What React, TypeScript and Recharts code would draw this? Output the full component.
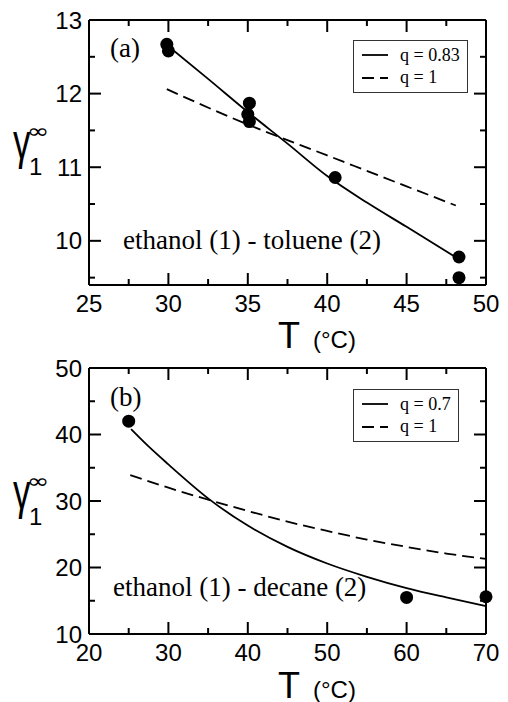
import React from "react";
import {
  ComposedChart,
  Line,
  Scatter,
  XAxis,
  YAxis,
  Legend,
  Customized,
} from "recharts";

// (a) ethanol (1) - toluene (2)
const expT_a = [29.9, 30.0, 35.0, 35.1, 35.1, 40.5, 48.3, 48.3];
const expG_a = [12.67, 12.58, 11.72, 11.87, 11.62, 10.86, 9.78, 9.5];
const fitT_a = [29.9, 32.5, 35, 37.5, 40, 42.5, 45, 48.3];
const fitG_a = [12.66, 12.2, 11.75, 11.32, 10.88, 10.52, 10.19, 9.75];
const q1T_a = [29.9, 35, 40, 45, 48.1];
const q1G_a = [12.06, 11.58, 11.16, 10.74, 10.48];
const xTicks_a = [25, 27.5, 30, 32.5, 35, 37.5, 40, 42.5, 45, 47.5, 50];
const yTicks_a = [9.5, 10, 10.5, 11, 11.5, 12, 12.5, 13];

// (b) ethanol (1) - decane (2)
const expT_b = [25, 60, 70];
const expG_b = [42.0, 15.5, 15.6];
const fitT_b = [25.3, 27.5, 30, 35, 40, 45, 50, 55, 60, 65, 70];
const fitG_b = [40.8, 38.2, 35.5, 30.4, 26.3, 23.1, 20.6, 18.6, 16.9, 15.5, 14.2];
const q1T_b = [25.2, 30, 35, 40, 45, 50, 55, 60, 65, 70];
const q1G_b = [33.9, 32.0, 30.2, 28.5, 26.9, 25.5, 24.2, 23.1, 22.1, 21.3];
const xTicks_b = [20, 25, 30, 35, 40, 45, 50, 55, 60, 65, 70];
const yTicks_b = [10, 15, 20, 25, 30, 35, 40, 45, 50];

const serif = "'Liberation Serif', 'Times New Roman', serif";
const sans = "'Liberation Sans', Arial, sans-serif";
const DASH = "12 6";
const LEFT = 89;
const RIGHT = 486;

const zip = (xs: number[], ys: number[]) => xs.map((x, i) => ({ x, y: ys[i] }));

// inward ticks on all four sides, labels only on bottom/left majors
function makeTick(side: string, step: number, top: number, bottom: number) {
  return (props: any) => {
    const { payload } = props;
    const v = payload.value as number;
    const c = payload.coordinate ?? (side === "left" || side === "right" ? props.y : props.x);
    const major = Math.abs(v / step - Math.round(v / step)) < 1e-6;
    const len = major ? 12 : 6;
    let x1 = c, y1 = c, x2 = c, y2 = c;
    if (side === "bottom") { y1 = bottom; y2 = bottom - len; }
    if (side === "top") { y1 = top; y2 = top + len; }
    if (side === "left") { x1 = LEFT; x2 = LEFT + len; }
    if (side === "right") { x1 = RIGHT; x2 = RIGHT - len; }
    return (
      <g>
        <line x1={x1} y1={y1} x2={x2} y2={y2} stroke="#000" strokeWidth={2} />
        {major && side === "bottom" && (
          <text x={c} y={bottom + 27} textAnchor="middle" fontFamily={sans} fontSize={24} fill="#000">
            {v}
          </text>
        )}
        {major && side === "left" && (
          <text x={LEFT - 7} y={c} dy="0.36em" textAnchor="end" fontFamily={sans} fontSize={24} fill="#000">
            {v}
          </text>
        )}
      </g>
    );
  };
}

function LegendBox({ labels, width }: { labels: string[]; width: number }) {
  return (
    <div
      style={{
        width,
        height: 53,
        border: "1px solid #333",
        boxSizing: "border-box",
        background: "#fff",
      }}
    >
      <svg width={width - 2} height={51}>
        {labels.map((lab, i) => (
          <g key={lab}>
            <line
              x1={8}
              x2={34}
              y1={14 + i * 23}
              y2={14 + i * 23}
              stroke="#000"
              strokeWidth={1.8}
              strokeDasharray={i === 1 ? DASH : undefined}
            />
            <text x={46} y={20 + i * 22} fontFamily={serif} fontSize={18} fill="#000">
              {lab}
            </text>
          </g>
        ))}
      </svg>
    </div>
  );
}

function Panel(props: any) {
  const {
    offsetTop, height, plotTop, plotBottom, xDomain, yDomain, xTicks, yTicks, xStep, yStep,
    exp, fit, q1, tag, tagY, system, sysX, sysY, legendLabels, legendW, legendTop,
  } = props;
  const axisLine = { stroke: "#000", strokeWidth: 2 };
  return (
    <div style={{ position: "absolute", left: 0, top: offsetTop }}>
      <ComposedChart
        width={508}
        height={height}
        margin={{ top: plotTop - 1, right: 508 - RIGHT - 1, bottom: height - plotBottom - 30, left: LEFT - 60 }}
      >
        <XAxis xAxisId="b" dataKey="x" type="number" domain={xDomain} ticks={xTicks}
          interval={0} tickSize={0} tickMargin={0} tickLine={false} axisLine={axisLine}
          height={30} tick={makeTick("bottom", xStep, plotTop, plotBottom)} />
        <XAxis xAxisId="t" orientation="top" dataKey="x" type="number" domain={xDomain}
          ticks={xTicks} interval={0} tickSize={0} tickMargin={0} tickLine={false}
          axisLine={axisLine} height={1} tick={makeTick("top", xStep, plotTop, plotBottom)} />
        <YAxis yAxisId="l" dataKey="y" type="number" domain={yDomain} ticks={yTicks}
          interval={0} tickSize={0} tickMargin={0} tickLine={false} axisLine={axisLine}
          width={60} tick={makeTick("left", yStep, plotTop, plotBottom)} />
        <YAxis yAxisId="r" orientation="right" dataKey="y" type="number" domain={yDomain}
          ticks={yTicks} interval={0} tickSize={0} tickMargin={0} tickLine={false}
          axisLine={axisLine} width={1} tick={makeTick("right", yStep, plotTop, plotBottom)} />
        <Line xAxisId="b" yAxisId="l" data={fit} dataKey="y" type="monotone" stroke="#000"
          strokeWidth={1.8} dot={false} isAnimationActive={false} name={legendLabels[0]} />
        <Line xAxisId="b" yAxisId="l" data={q1} dataKey="y" type="monotone" stroke="#000"
          strokeWidth={1.8} strokeDasharray={DASH} dot={false} isAnimationActive={false}
          name={legendLabels[1]} />
        <Scatter xAxisId="b" yAxisId="l" data={exp} dataKey="y" legendType="none"
          isAnimationActive={false}
          shape={(p: any) => <circle cx={p.cx} cy={p.cy} r={6.5} fill="#000" />} />
        {/* invisible copy so the frame axes (top/right) get ticks */}
        <Scatter xAxisId="t" yAxisId="r" data={exp} dataKey="y" legendType="none"
          isAnimationActive={false} shape={() => <g />} />
        <Legend
          layout="vertical"
          align="center"
          verticalAlign="middle"
          wrapperStyle={{ position: "absolute", left: 353, top: legendTop, width: legendW }}
          content={() => <LegendBox labels={legendLabels} width={legendW} />}
        />
        <Customized
          component={() => (
            <g fill="#000">
              <text x={110} y={tagY} fontFamily={serif} fontSize={27}>{tag}</text>
              <text x={sysX} y={sysY} fontFamily={serif} fontSize={27}>{system}</text>
              <text x={278} y={348} fontFamily={sans} fontSize={36}>T</text>
              <text x={313} y={348} fontFamily={sans} fontSize={24}>(°C)</text>
              <text transform="translate(13,159) scale(0.7,1)" fontFamily={sans} fontSize={50}>γ</text>
              <text x={29} y={175} fontFamily={sans} fontSize={24}>1</text>
              <text transform="translate(38,131) scale(1,0.75)" textAnchor="middle" y={9}
                fontFamily="'DejaVu Sans', sans-serif" fontSize={27}>∞</text>
            </g>
          )}
        />
      </ComposedChart>
    </div>
  );
}

export default function App() {
  return (
    <div style={{ position: "absolute", left: 0, top: 0, width: 508, height: 702, background: "#fff", overflow: "hidden" }}>
      <Panel
        offsetTop={0} height={358} plotTop={20} plotBottom={285}
        xDomain={[25, 50]} yDomain={[9.4, 13]} xTicks={xTicks_a} yTicks={yTicks_a}
        xStep={5} yStep={1}
        exp={zip(expT_a, expG_a)} fit={zip(fitT_a, fitG_a)} q1={zip(q1T_a, q1G_a)}
        tag="(a)" tagY={57} system="ethanol (1) - toluene (2)" sysX={123} sysY={249}
        legendLabels={["q = 0.83", "q = 1"]} legendW={115} legendTop={40}
      />
      <Panel
        offsetTop={350} height={360} plotTop={18} plotBottom={284}
        xDomain={[20, 70]} yDomain={[10, 50]} xTicks={xTicks_b} yTicks={yTicks_b}
        xStep={10} yStep={10}
        exp={zip(expT_b, expG_b)} fit={zip(fitT_b, fitG_b)} q1={zip(q1T_b, q1G_b)}
        tag="(b)" tagY={56} system="ethanol (1) - decane (2)" sysX={113} sysY={246}
        legendLabels={["q = 0.7", "q = 1"]} legendW={106} legendTop={39}
      />
    </div>
  );
}
